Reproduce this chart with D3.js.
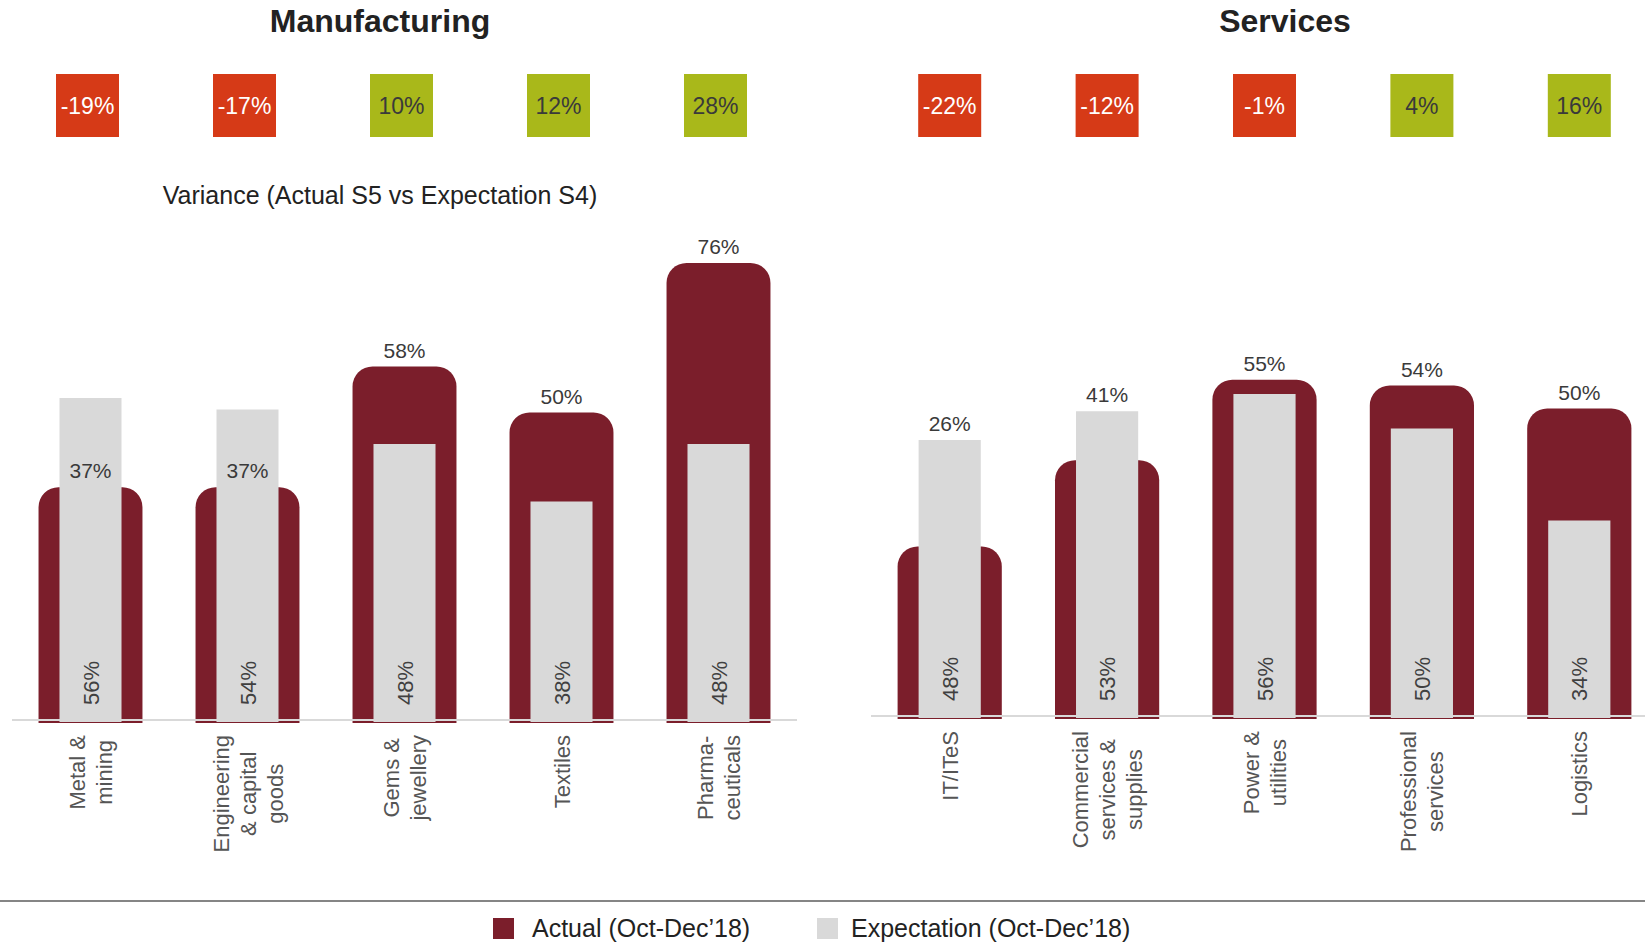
<!DOCTYPE html>
<html>
<head>
<meta charset="utf-8">
<script src="https://cdn.jsdelivr.net/npm/d3@7"></script>
<style>
  body { margin: 0; background: #fff; }
  text { font-family: "Liberation Sans", Arial, sans-serif; }
</style>
</head>
<body>
<script>
// manufacturing data
var mfgLabels = [["Metal &", "mining"], ["Engineering", "& capital", "goods"], ["Gems &", "jewellery"], ["Textiles"], ["Pharma-", "ceuticals"]];
var mfgActual = [37, 37, 58, 50, 76];
var mfgExpect = [56, 54, 48, 38, 48];
var mfgVariance = [-19, -17, 10, 12, 28];

// services data
var svcLabels = [["IT/ITeS"], ["Commercial", "services &", "supplies"], ["Power &", "utilities"], ["Professional", "services"], ["Logistics"]];
var svcActual = [26, 41, 55, 54, 50];
var svcExpect = [48, 53, 56, 50, 34];
var svcVariance = [-22, -12, -1, 4, 16];

var legendItems = ["Actual (Oct-Dec\u201918)", "Expectation (Oct-Dec\u201918)"];

var darkColor = "#7B1E2B";
var greyColor = "#D9D9D9";
var negColor = "#D63A17";
var posColor = "#A9B81A";

var W = 1645, H = 945;
var svg = d3.select("body").append("svg")
    .attr("width", W)
    .attr("height", H);

function topRounded(x, y, w, h, r) {
    return "M" + x + "," + (y + h) +
        "V" + (y + r) +
        "A" + r + "," + r + " 0 0 1 " + (x + r) + "," + y +
        "H" + (x + w - r) +
        "A" + r + "," + r + " 0 0 1 " + (x + w) + "," + (y + r) +
        "V" + (y + h) + "Z";
}

function drawPanel(opt) {
    var n = opt.labels.length;
    var idx = d3.range(n);
    var x = d3.scaleBand().domain(idx).range(opt.xRange).padding(0);
    var y = d3.scaleLinear().domain([0, 100]).range([opt.base, opt.base - 575]);
    var bw = x.bandwidth();
    var darkW = bw * 0.662, greyW = bw * 0.395;
    var cap = 20;
    var g = svg.append("g");

    // title
    g.append("text")
        .attr("x", opt.titleX).attr("y", 32)
        .attr("text-anchor", "middle")
        .style("font-size", "32px").style("font-weight", "bold").style("fill", "#222")
        .text(opt.title);

    // variance boxes
    for (var i = 0; i < n; i++) {
        var cx = x(i) + bw / 2 + opt.boxShift;
        var v = opt.variance[i];
        g.append("rect")
            .attr("x", cx - 31.5).attr("y", 74)
            .attr("width", 63).attr("height", 63)
            .attr("fill", v < 0 ? negColor : posColor);
        g.append("text")
            .attr("x", cx).attr("y", 114)
            .attr("text-anchor", "middle")
            .style("font-size", "23px")
            .style("fill", v < 0 ? "#fff" : "#3a3a3a")
            .text(v + "%");
    }

    if (opt.subtitle) {
        g.append("text")
            .attr("x", opt.titleX).attr("y", 204)
            .attr("text-anchor", "middle")
            .style("font-size", "25px").style("fill", "#222")
            .text(opt.subtitle);
    }

    for (i = 0; i < n; i++) {
        cx = x(i) + bw / 2;
        var darkTop = y(opt.actual[i]) - cap;
        g.append("path")
            .attr("d", topRounded(cx - darkW / 2, darkTop, darkW, opt.base + 3 - darkTop, cap))
            .attr("fill", darkColor);
        g.append("rect")
            .attr("x", cx - greyW / 2).attr("y", y(opt.expect[i]))
            .attr("width", greyW).attr("height", opt.base + 2 - y(opt.expect[i]))
            .attr("fill", greyColor);
    }

    // baseline
    g.append("line")
        .attr("x1", opt.xRange[0]).attr("x2", Math.min(opt.xRange[1], W))
        .attr("y1", opt.base).attr("y2", opt.base)
        .attr("stroke", "#D9D9D9").attr("stroke-width", 2);

    for (i = 0; i < n; i++) {
        cx = x(i) + bw / 2;
        darkTop = y(opt.actual[i]) - cap;
        var ly = darkTop;
        if (opt.labelOnTallest) ly = Math.min(darkTop, y(opt.expect[i]));
        g.append("text")
            .attr("x", cx).attr("y", ly - 9)
            .attr("text-anchor", "middle")
            .style("font-size", "21px").style("fill", "#3a3a3a")
            .text(opt.actual[i] + "%");

        // expectation value, rotated inside grey bar
        g.append("text")
            .attr("transform", "translate(" + cx + "," + (opt.base - 15) + ") rotate(-90)")
            .attr("x", 0).attr("y", 8)
            .style("font-size", "22px").style("fill", "#404040")
            .text(opt.expect[i] + "%");

        // category label
        var lines = opt.labels[i];
        var lg = g.append("g")
            .attr("transform", "translate(" + cx + "," + (opt.base + 15) + ") rotate(-90)");
        var texts = [];
        var maxLen = 0;
        for (var j = 0; j < lines.length; j++) {
            var t = lg.append("text")
                .attr("y", (j - (lines.length - 1) / 2) * 27 + 8)
                .attr("text-anchor", "middle")
                .style("font-size", "22px").style("fill", "#555")
                .text(lines[j]);
            texts.push(t);
            maxLen = Math.max(maxLen, t.node().getComputedTextLength());
        }
        for (j = 0; j < texts.length; j++) texts[j].attr("x", -maxLen / 2);
    }
}

drawPanel({
    title: "Manufacturing", titleX: 380,
    subtitle: "Variance (Actual S5 vs Expectation S4)",
    labels: mfgLabels, actual: mfgActual, expect: mfgExpect, variance: mfgVariance,
    xRange: [12, 797], base: 720, labelOnTallest: false, boxShift: -3
});

drawPanel({
    title: "Services", titleX: 1285,
    labels: svcLabels, actual: svcActual, expect: svcExpect, variance: svcVariance,
    xRange: [871, 1658], base: 716, labelOnTallest: true, boxShift: 0
});

// separator
svg.append("line")
    .attr("x1", 0).attr("x2", W)
    .attr("y1", 901).attr("y2", 901)
    .attr("stroke", "#858585").attr("stroke-width", 2);

// legend
var legendX = [493, 817];
var legendTextX = [532, 851];
var legendColors = [darkColor, greyColor];
for (var k = 0; k < legendItems.length; k++) {
    svg.append("rect")
        .attr("x", legendX[k]).attr("y", 918)
        .attr("width", 21).attr("height", 21)
        .attr("fill", legendColors[k]);
    svg.append("text")
        .attr("x", legendTextX[k]).attr("y", 937)
        .style("font-size", "25px").style("fill", "#222")
        .text(legendItems[k]);
}
</script>
</body>
</html>
